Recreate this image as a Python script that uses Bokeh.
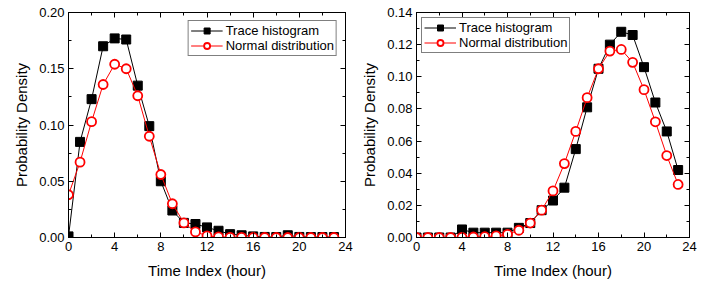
from bokeh.plotting import figure
from bokeh.layouts import row
from bokeh.models import LinearAxis, SingleIntervalTicker, PrintfTickFormatter, Range1d, Legend, LegendItem
from bokeh.embed import file_html
from bokeh.resources import INLINE

hours = list(range(24))

left_trace = [0.001, 0.085, 0.123, 0.170, 0.177, 0.176, 0.135, 0.099, 0.050, 0.024,
              0.013, 0.012, 0.009, 0.006, 0.003, 0.002, 0.001, 0.0005, 0.0004, 0.002,
              0.0005, 0.0004, 0.0004, 0.0004]
left_normal = [0.038, 0.067, 0.103, 0.136, 0.154, 0.150, 0.126, 0.090, 0.056, 0.030,
               0.013, 0.005, 0.0015, 0.0005, 0.0002, 0.0001, 0.0, 0.0, 0.0, 0.0,
               0.0, 0.0, 0.0, 0.0]

right_trace = [0.0, 0.0, 0.0, 0.0, 0.005, 0.003, 0.003, 0.003, 0.003, 0.006,
               0.009, 0.017, 0.023, 0.031, 0.055, 0.081, 0.105, 0.120, 0.128, 0.126,
               0.106, 0.084, 0.066, 0.042]
right_normal = [0.0, 0.0, 0.0, 0.0, 0.0001, 0.0003, 0.0005, 0.001, 0.002, 0.0045,
                0.009, 0.017, 0.029, 0.046, 0.066, 0.087, 0.105, 0.116, 0.117, 0.109,
                0.092, 0.072, 0.051, 0.033]

FONT = "Liberation Sans"


def style_axis(ax, ticker, labels=True, fmt=None):
    ax.ticker = ticker
    ax.major_tick_in = 5
    ax.major_tick_out = 0
    ax.minor_tick_in = 3
    ax.minor_tick_out = 0
    ax.axis_line_color = "black"
    ax.major_tick_line_color = "black"
    ax.minor_tick_line_color = "black"
    ax.major_label_text_font = FONT
    if labels:
        ax.major_label_text_font_size = "13px"
        ax.major_label_text_color = "black"
        ax.major_label_standoff = 4
    else:
        ax.major_label_text_font_size = "1px"
        ax.major_label_text_color = None
        ax.major_label_standoff = 0
    if fmt is not None:
        ax.formatter = fmt


def make_panel(trace, normal, ymax, ystep, legend_loc, legend_margin, width, bl, br):
    p = figure(width=width, height=284, output_backend="svg", toolbar_location=None,
               x_range=Range1d(0, 24), y_range=Range1d(0, ymax),
               min_border_left=bl, min_border_right=br, min_border_top=12, min_border_bottom=47,
               x_axis_label="Time Index (hour)", y_axis_label="Probability Density")
    p.xgrid.visible = False
    p.ygrid.visible = False
    p.outline_line_color = "black"
    p.background_fill_color = "white"
    p.border_fill_color = "white"

    xt = SingleIntervalTicker(interval=4, num_minor_ticks=2)
    yt = SingleIntervalTicker(interval=ystep, num_minor_ticks=2)
    style_axis(p.xaxis[0], xt)
    style_axis(p.yaxis[0], yt, fmt=PrintfTickFormatter(format="%.2f"))
    for ax in (p.xaxis[0], p.yaxis[0]):
        ax.axis_label_text_font = FONT
        ax.axis_label_text_font_size = "15px"
        ax.axis_label_text_font_style = "normal"
        ax.axis_label_text_color = "black"
    p.xaxis[0].axis_label_standoff = 8
    p.yaxis[0].axis_label_standoff = 6

    top = LinearAxis()
    style_axis(top, SingleIntervalTicker(interval=4, num_minor_ticks=2), labels=False)
    p.add_layout(top, "above")
    right = LinearAxis()
    style_axis(right, SingleIntervalTicker(interval=ystep, num_minor_ticks=2), labels=False)
    p.add_layout(right, "right")

    l1 = p.line(hours, trace, line_color="black", line_width=1)
    s1 = p.scatter(hours, trace, marker="square", size=9, fill_color="black", line_color="black")
    l2 = p.line(hours, normal, line_color="red", line_width=1)
    s2 = p.scatter(hours, normal, marker="circle", size=9, fill_color="white",
                   line_color="red", line_width=1.8)

    legend = Legend(items=[LegendItem(label="Trace histogram", renderers=[l1, s1]),
                           LegendItem(label="Normal distribution", renderers=[l2, s2])],
                    location=legend_loc, margin=legend_margin)
    legend.label_text_font = FONT
    legend.label_text_font_size = "13px"
    legend.label_text_color = "black"
    legend.border_line_color = "black"
    legend.border_line_width = 1
    legend.padding = 2
    legend.spacing = 0
    legend.glyph_width = 32
    legend.glyph_height = 15
    legend.label_height = 15
    legend.label_standoff = 3
    legend.background_fill_alpha = 1
    p.add_layout(legend, "center")
    return p


p1 = make_panel(left_trace, left_normal, 0.20, 0.05, "top_right", 8, 358, 68, 13)
p2 = make_panel(right_trace, right_normal, 0.14, 0.02, "top_left", 5, 357, 55, 26)

p = row(p1, p2)
open("out.html", "w").write(file_html(p, INLINE))
